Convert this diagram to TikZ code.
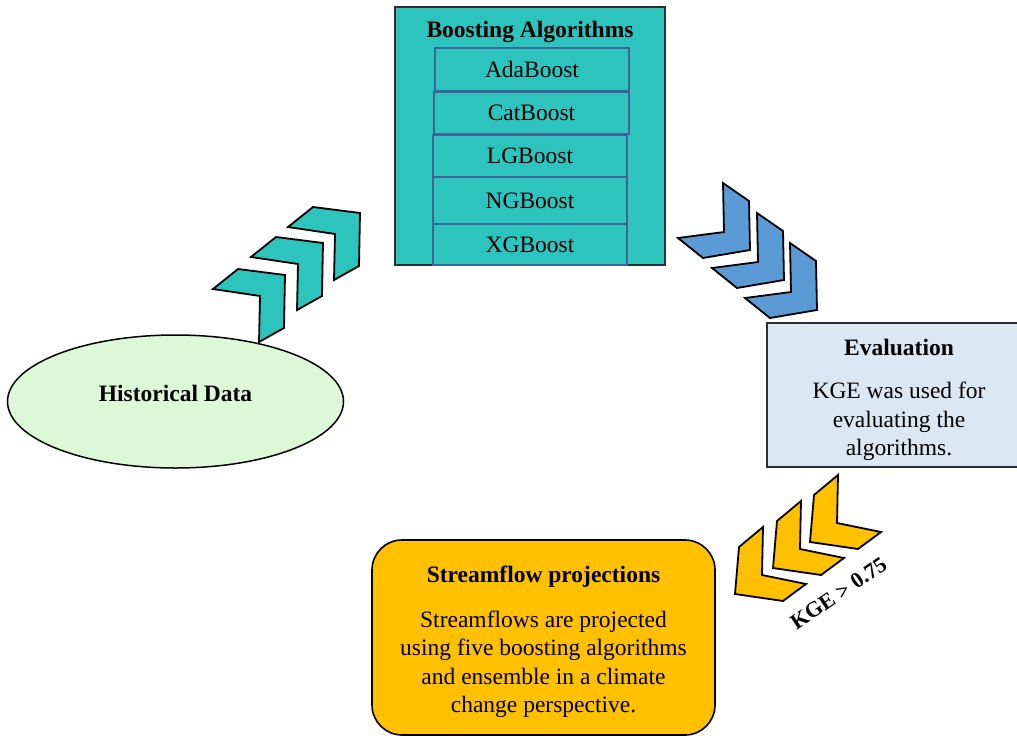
\documentclass[tikz,border=0pt]{standalone}
\usepackage{fontspec}
\setmainfont{Liberation Serif}
\usetikzlibrary{shapes.geometric}
\definecolor{tealfill}{RGB}{46,196,190}
\definecolor{bluechev}{RGB}{91,155,213}
\definecolor{goldfill}{RGB}{255,192,0}
\definecolor{mintfill}{RGB}{221,248,215}
\definecolor{evalfill}{RGB}{220,231,244}
\definecolor{innerline}{RGB}{62,100,150}
\definecolor{darkline}{RGB}{45,45,45}
\tikzset{
  txt/.style={font=\fontsize{23.5}{28}\selectfont, inner sep=0pt, anchor=base},
  ttl/.style={txt, font=\fontsize{23.5}{28}\selectfont\bfseries},
  chevstyle/.style={draw=black, line width=1.8pt, line join=miter},
  innerbox/.style={draw=innerline, line width=1.3pt, fill=tealfill, inner sep=0pt,
     font=\fontsize{23.5}{28}\selectfont, text=black},
  tealchev/.pic={\draw[chevstyle, fill=tealfill] (0,0) -- (-47,-6) -- (-72,14) -- (-25,21) -- (-26,67) -- (-1,53) -- cycle;},
  bluechevron/.pic={\draw[chevstyle, fill=bluechev] (0,0) -- (-1,-49) -- (-27,-67) -- (-26,-18) -- (-72,-12) -- (-47,8) -- cycle;},
  goldchev/.pic={\draw[chevstyle, fill=goldfill] (0,0) -- (4,-47) -- (28,-67) -- (27,-19) -- (71,-10) -- (48,7) -- cycle;}
}
\begin{document}
\begin{tikzpicture}[x=1pt, y=-1pt]
\clip (0,0) rectangle (1017,737);
\fill[white] (0,0) rectangle (1017,737);

% chevrons
\pic at (285,275) {tealchev};
\pic at (323,243) {tealchev};
\pic at (360,213) {tealchev};
\pic at (750,250) {bluechevron};
\pic at (784,280) {bluechevron};
\pic at (817,310) {bluechevron};
\pic at (810,542) {goldchev};
\pic at (773,568) {goldchev};
\pic at (735,594) {goldchev};

% Historical data
\node[ellipse, draw=black, line width=1.5pt, fill=mintfill, minimum width=336pt, minimum height=133pt, inner sep=0pt] (hist) at (175.5,401.5) {};
\node[ttl] (histlabel) at (175.5,401) {Historical Data};

% Boosting algorithms
\node[draw=darkline, line width=1.5pt, fill=tealfill, minimum width=270pt, minimum height=258pt, inner sep=0pt] (boost) at (530,136) {};
\node[ttl] (btitle) at (530,37) {Boosting Algorithms};
\node[innerbox, minimum width=194pt, minimum height=43pt] (ada) at (532,69.5) {AdaBoost};
\node[innerbox, minimum width=195pt, minimum height=42pt] (cat) at (531.5,113) {CatBoost};
\node[innerbox, minimum width=194pt, minimum height=42pt] (lgb) at (530,156) {LGBoost};
\node[innerbox, minimum width=194pt, minimum height=47pt] (ngb) at (530,200.5) {NGBoost};
\node[innerbox, minimum width=194pt, minimum height=41pt] (xgb) at (530,244.5) {XGBoost};

% Evaluation
\node[draw=darkline, line width=1.6pt, fill=evalfill, minimum width=264pt, minimum height=144pt, inner sep=0pt] (eval) at (899,395) {};
\node[ttl] (etitle) at (899,355) {Evaluation};
\node[txt] (e1) at (899,398) {KGE was used for};
\node[txt] (e2) at (899,427) {evaluating the};
\node[txt] (e3) at (899,455) {algorithms.};

% Streamflow projections
\node[draw=black, line width=1.6pt, fill=goldfill, rounded corners=30pt, minimum width=343pt, minimum height=195pt, inner sep=0pt] (sf) at (543.5,637.5) {};
\node[ttl] (stitle) at (543.5,582) {Streamflow projections};
\node[txt] (s1) at (543.5,627) {Streamflows are projected};
\node[txt] (s2) at (543.5,655.5) {using five boosting algorithms};
\node[txt] (s3) at (543.5,684) {and ensemble in a climate};
\node[txt] (s4) at (543.5,712.5) {change perspective.};

% KGE label
\node[font=\fontsize{22}{26}\selectfont\bfseries, inner sep=0pt, rotate=34] (kge) at (838.5,593.5) {KGE > 0.75};
\end{tikzpicture}
\end{document}
